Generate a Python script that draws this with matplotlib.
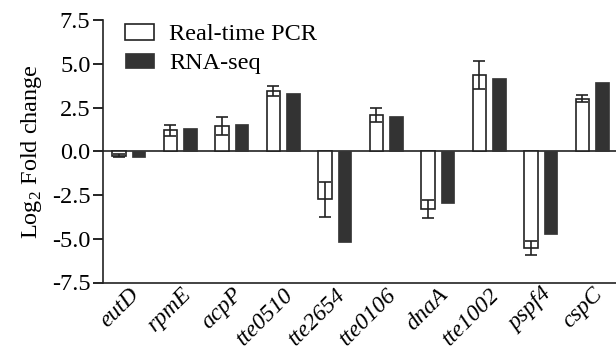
import numpy as np
import matplotlib.pyplot as plt

plt.rcParams['font.family'] = ['Liberation Serif', 'DejaVu Serif']
plt.rcParams['mathtext.fontset'] = 'custom'
plt.rcParams['mathtext.rm'] = 'Liberation Serif'

genes = ["eutD", "rpmE", "acpP", "tte0510", "tte2654", "tte0106",
         "dnaA", "tte1002", "pspf4", "cspC"]
pcr = [-0.25, 1.2, 1.45, 3.45, -2.75, 2.05, -3.3, 4.35, -5.55, 3.0]
pcr_err = [0.1, 0.3, 0.5, 0.3, 1.0, 0.4, 0.5, 0.8, 0.4, 0.2]
rnaseq = [-0.3, 1.33, 1.56, 3.32, -5.2, 2.0, -2.95, 4.16, -4.73, 3.95]
yticks = [-7.5, -5.0, -2.5, 0.0, 2.5, 5.0, 7.5]

x = np.arange(len(genes))
w = 0.26

fig = plt.figure(figsize=(6.16, 3.49), dpi=100)
ax = fig.add_axes([103/616, 1 - 282.5/349, 515/616, 262.5/349])

ax.bar(x - 0.19, pcr, w, color="white", edgecolor="#222222", linewidth=1.2,
       yerr=pcr_err, capsize=4.5,
       error_kw=dict(elinewidth=1.2, capthick=1.2, ecolor="#222222"),
       label="Real-time PCR")
ax.bar(x + 0.19, rnaseq, w, color="#333333", edgecolor="#333333",
       linewidth=0.5, label="RNA-seq")
ax.axhline(0, color="#222222", lw=1.2, zorder=0)

ax.set_xlim(-0.5, 9.5)
ax.set_ylim(-7.5, 7.5)
ax.set_yticks(yticks)
ax.set_yticklabels([f"{v:.1f}" for v in yticks], fontsize=17.5)
ax.set_xticks(x)
ax.set_xticklabels(genes, rotation=45, ha="right", rotation_mode="anchor",
                   style="italic", fontsize=17)
ax.tick_params(axis="x", length=0, pad=1)
ax.tick_params(axis="y", length=7, width=1.2, pad=2)
ax.spines["right"].set_visible(False)
ax.spines["top"].set_visible(False)
for s in ["left", "bottom"]:
    ax.spines[s].set_linewidth(1.2)
    ax.spines[s].set_color("#222222")

ax.set_ylabel("Log$_2$ Fold change", fontsize=17.5, labelpad=6)

ax.legend(loc="upper left", bbox_to_anchor=(0.015, 1.04), frameon=False,
          fontsize=17.5, handlelength=1.2, handleheight=0.6, labelspacing=0.3,
          handletextpad=0.6, borderaxespad=0.2)

fig.savefig("out.png", dpi=100)
